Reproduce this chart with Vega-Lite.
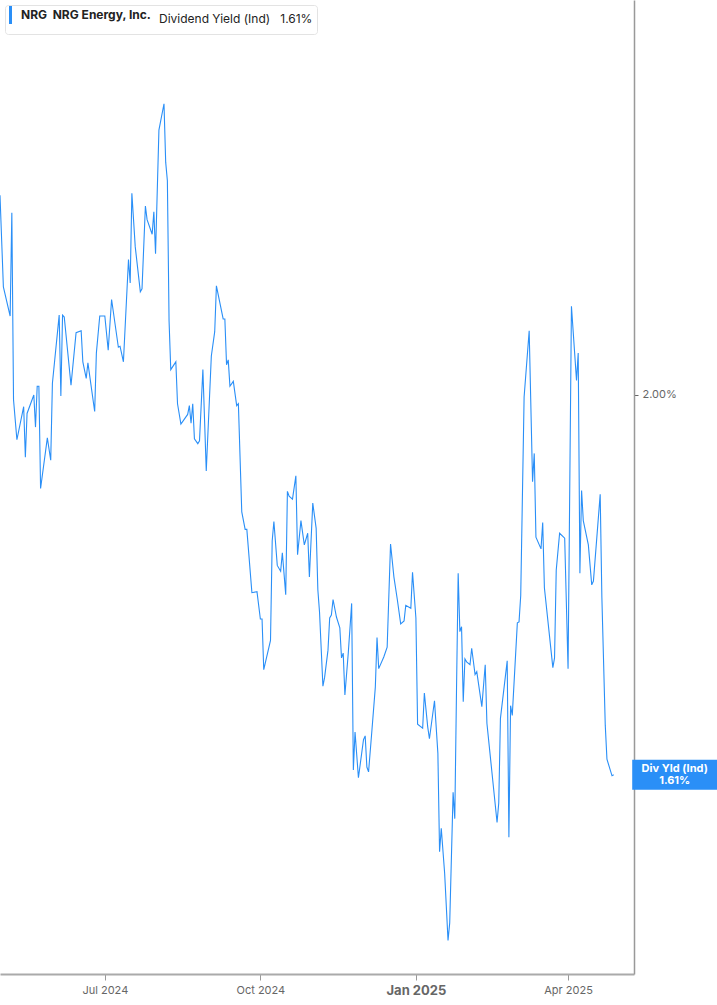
{
  "$schema": "https://vega.github.io/schema/vega-lite/v6.json",
  "width": 634,
  "height": 974,
  "autosize": "none",
  "padding": {"left": 0, "top": 0, "right": 83, "bottom": 31},
  "config": {
    "view": {"stroke": null},
    "font": "Inter",
    "legend": {"fillColor": "white", "strokeColor": "#e3e3e3", "cornerRadius": 3}
  },
  "data": {
    "values": [
      {"date": "2024-04-30", "value": 2.205}, {"date": "2024-05-02", "value": 2.111}, {"date": "2024-05-06", "value": 2.081},
      {"date": "2024-05-07", "value": 2.187}, {"date": "2024-05-08", "value": 1.995}, {"date": "2024-05-10", "value": 1.954},
      {"date": "2024-05-14", "value": 1.988}, {"date": "2024-05-15", "value": 1.936}, {"date": "2024-05-16", "value": 1.981},
      {"date": "2024-05-20", "value": 2.000}, {"date": "2024-05-21", "value": 1.967}, {"date": "2024-05-22", "value": 2.009},
      {"date": "2024-05-23", "value": 2.009}, {"date": "2024-05-24", "value": 1.904}, {"date": "2024-05-28", "value": 1.956},
      {"date": "2024-05-30", "value": 1.933}, {"date": "2024-05-31", "value": 2.012}, {"date": "2024-06-04", "value": 2.082},
      {"date": "2024-06-05", "value": 1.999}, {"date": "2024-06-06", "value": 2.082}, {"date": "2024-06-07", "value": 2.080},
      {"date": "2024-06-11", "value": 2.010}, {"date": "2024-06-14", "value": 2.064}, {"date": "2024-06-17", "value": 2.066},
      {"date": "2024-06-18", "value": 2.034}, {"date": "2024-06-20", "value": 2.017}, {"date": "2024-06-21", "value": 2.033},
      {"date": "2024-06-25", "value": 1.983}, {"date": "2024-06-26", "value": 2.043}, {"date": "2024-06-28", "value": 2.081},
      {"date": "2024-07-01", "value": 2.081}, {"date": "2024-07-03", "value": 2.046}, {"date": "2024-07-05", "value": 2.098},
      {"date": "2024-07-09", "value": 2.049}, {"date": "2024-07-10", "value": 2.050}, {"date": "2024-07-12", "value": 2.034},
      {"date": "2024-07-15", "value": 2.139}, {"date": "2024-07-16", "value": 2.115}, {"date": "2024-07-17", "value": 2.207},
      {"date": "2024-07-19", "value": 2.152}, {"date": "2024-07-22", "value": 2.106}, {"date": "2024-07-23", "value": 2.109},
      {"date": "2024-07-25", "value": 2.194}, {"date": "2024-07-26", "value": 2.180}, {"date": "2024-07-29", "value": 2.165},
      {"date": "2024-07-30", "value": 2.188}, {"date": "2024-07-31", "value": 2.145}, {"date": "2024-08-02", "value": 2.272},
      {"date": "2024-08-05", "value": 2.299}, {"date": "2024-08-06", "value": 2.239}, {"date": "2024-08-07", "value": 2.220},
      {"date": "2024-08-08", "value": 2.076}, {"date": "2024-08-09", "value": 2.026}, {"date": "2024-08-12", "value": 2.034},
      {"date": "2024-08-13", "value": 1.991}, {"date": "2024-08-15", "value": 1.970}, {"date": "2024-08-19", "value": 1.980},
      {"date": "2024-08-20", "value": 1.989}, {"date": "2024-08-21", "value": 1.971}, {"date": "2024-08-22", "value": 1.991},
      {"date": "2024-08-23", "value": 1.955}, {"date": "2024-08-25", "value": 1.950}, {"date": "2024-08-26", "value": 1.953},
      {"date": "2024-08-28", "value": 2.026}, {"date": "2024-08-30", "value": 1.922}, {"date": "2024-09-02", "value": 2.040},
      {"date": "2024-09-04", "value": 2.065}, {"date": "2024-09-05", "value": 2.112}, {"date": "2024-09-09", "value": 2.078},
      {"date": "2024-09-10", "value": 2.078}, {"date": "2024-09-11", "value": 2.031}, {"date": "2024-09-12", "value": 2.036},
      {"date": "2024-09-13", "value": 2.009}, {"date": "2024-09-15", "value": 2.014}, {"date": "2024-09-17", "value": 1.989},
      {"date": "2024-09-18", "value": 1.991}, {"date": "2024-09-20", "value": 1.880}, {"date": "2024-09-22", "value": 1.862},
      {"date": "2024-09-23", "value": 1.862}, {"date": "2024-09-26", "value": 1.797}, {"date": "2024-09-29", "value": 1.798},
      {"date": "2024-10-01", "value": 1.770}, {"date": "2024-10-02", "value": 1.770}, {"date": "2024-10-03", "value": 1.718},
      {"date": "2024-10-07", "value": 1.748}, {"date": "2024-10-08", "value": 1.850}, {"date": "2024-10-09", "value": 1.870},
      {"date": "2024-10-11", "value": 1.825}, {"date": "2024-10-13", "value": 1.819}, {"date": "2024-10-14", "value": 1.838},
      {"date": "2024-10-16", "value": 1.795}, {"date": "2024-10-17", "value": 1.901}, {"date": "2024-10-18", "value": 1.896},
      {"date": "2024-10-20", "value": 1.893}, {"date": "2024-10-22", "value": 1.917}, {"date": "2024-10-23", "value": 1.836},
      {"date": "2024-10-25", "value": 1.871}, {"date": "2024-10-27", "value": 1.846}, {"date": "2024-10-29", "value": 1.858},
      {"date": "2024-10-30", "value": 1.813}, {"date": "2024-11-01", "value": 1.889}, {"date": "2024-11-03", "value": 1.863},
      {"date": "2024-11-04", "value": 1.800}, {"date": "2024-11-05", "value": 1.777}, {"date": "2024-11-07", "value": 1.701},
      {"date": "2024-11-08", "value": 1.710}, {"date": "2024-11-10", "value": 1.738}, {"date": "2024-11-11", "value": 1.771},
      {"date": "2024-11-12", "value": 1.774}, {"date": "2024-11-13", "value": 1.790}, {"date": "2024-11-15", "value": 1.772},
      {"date": "2024-11-17", "value": 1.761}, {"date": "2024-11-18", "value": 1.730}, {"date": "2024-11-19", "value": 1.735},
      {"date": "2024-11-20", "value": 1.692}, {"date": "2024-11-22", "value": 1.735}, {"date": "2024-11-24", "value": 1.786},
      {"date": "2024-11-25", "value": 1.615}, {"date": "2024-11-26", "value": 1.654}, {"date": "2024-11-28", "value": 1.607},
      {"date": "2024-12-01", "value": 1.646}, {"date": "2024-12-02", "value": 1.650}, {"date": "2024-12-03", "value": 1.618},
      {"date": "2024-12-04", "value": 1.613}, {"date": "2024-12-06", "value": 1.656}, {"date": "2024-12-08", "value": 1.700},
      {"date": "2024-12-09", "value": 1.751}, {"date": "2024-12-10", "value": 1.719}, {"date": "2024-12-13", "value": 1.731},
      {"date": "2024-12-15", "value": 1.741}, {"date": "2024-12-17", "value": 1.847}, {"date": "2024-12-19", "value": 1.813},
      {"date": "2024-12-21", "value": 1.790}, {"date": "2024-12-23", "value": 1.765}, {"date": "2024-12-25", "value": 1.768},
      {"date": "2024-12-26", "value": 1.784}, {"date": "2024-12-29", "value": 1.781}, {"date": "2024-12-30", "value": 1.818},
      {"date": "2025-01-01", "value": 1.771}, {"date": "2025-01-02", "value": 1.662}, {"date": "2025-01-05", "value": 1.658},
      {"date": "2025-01-06", "value": 1.694}, {"date": "2025-01-08", "value": 1.659}, {"date": "2025-01-09", "value": 1.647},
      {"date": "2025-01-12", "value": 1.686}, {"date": "2025-01-14", "value": 1.632}, {"date": "2025-01-15", "value": 1.531},
      {"date": "2025-01-16", "value": 1.555}, {"date": "2025-01-18", "value": 1.509}, {"date": "2025-01-20", "value": 1.440},
      {"date": "2025-01-21", "value": 1.458}, {"date": "2025-01-23", "value": 1.592}, {"date": "2025-01-24", "value": 1.565},
      {"date": "2025-01-25", "value": 1.695}, {"date": "2025-01-26", "value": 1.817}, {"date": "2025-01-27", "value": 1.757},
      {"date": "2025-01-28", "value": 1.762}, {"date": "2025-01-29", "value": 1.685}, {"date": "2025-01-30", "value": 1.729},
      {"date": "2025-01-31", "value": 1.726}, {"date": "2025-02-02", "value": 1.723}, {"date": "2025-02-03", "value": 1.740},
      {"date": "2025-02-05", "value": 1.713}, {"date": "2025-02-06", "value": 1.716}, {"date": "2025-02-09", "value": 1.680},
      {"date": "2025-02-11", "value": 1.723}, {"date": "2025-02-12", "value": 1.663}, {"date": "2025-02-18", "value": 1.561},
      {"date": "2025-02-19", "value": 1.581}, {"date": "2025-02-20", "value": 1.668}, {"date": "2025-02-24", "value": 1.727},
      {"date": "2025-02-25", "value": 1.546}, {"date": "2025-02-26", "value": 1.681}, {"date": "2025-02-27", "value": 1.671},
      {"date": "2025-03-02", "value": 1.766}, {"date": "2025-03-03", "value": 1.767}, {"date": "2025-03-04", "value": 1.794},
      {"date": "2025-03-06", "value": 1.998}, {"date": "2025-03-09", "value": 2.066}, {"date": "2025-03-11", "value": 1.911},
      {"date": "2025-03-12", "value": 1.940}, {"date": "2025-03-13", "value": 1.854}, {"date": "2025-03-16", "value": 1.842},
      {"date": "2025-03-17", "value": 1.869}, {"date": "2025-03-18", "value": 1.802}, {"date": "2025-03-23", "value": 1.720},
      {"date": "2025-03-24", "value": 1.730}, {"date": "2025-03-25", "value": 1.820}, {"date": "2025-03-27", "value": 1.858},
      {"date": "2025-03-30", "value": 1.853}, {"date": "2025-04-01", "value": 1.719}, {"date": "2025-04-03", "value": 2.091},
      {"date": "2025-04-06", "value": 2.015}, {"date": "2025-04-07", "value": 2.043}, {"date": "2025-04-08", "value": 1.817},
      {"date": "2025-04-09", "value": 1.902}, {"date": "2025-04-10", "value": 1.871}, {"date": "2025-04-13", "value": 1.846},
      {"date": "2025-04-15", "value": 1.805}, {"date": "2025-04-16", "value": 1.809}, {"date": "2025-04-20", "value": 1.898},
      {"date": "2025-04-21", "value": 1.792}, {"date": "2025-04-23", "value": 1.661}, {"date": "2025-04-24", "value": 1.626},
      {"date": "2025-04-27", "value": 1.609}, {"date": "2025-04-28", "value": 1.610}
    ]
  },
  "encoding": {
    "x": {
      "field": "date",
      "type": "temporal",
      "title": null,
      "scale": {
        "type": "utc",
        "domain": [
          {"year": 2024, "month": 4, "date": 30, "utc": true},
          {"year": 2025, "month": 5, "date": 10, "utc": true}
        ]
      },
      "axis": {
        "values": [
          {"year": 2024, "month": 7, "date": 1, "utc": true},
          {"year": 2024, "month": 10, "date": 1, "utc": true},
          {"year": 2025, "month": 1, "date": 1, "utc": true},
          {"year": 2025, "month": 4, "date": 1, "utc": true}
        ],
        "format": "%b %Y",
        "grid": false,
        "domainColor": "#aaaaaa",
        "domainWidth": 2,
        "tickColor": "#999999",
        "tickSize": 6,
        "labelPadding": 4,
        "labelColor": "#666666",
        "labelFontSize": {"condition": {"test": "utcmonth(datum.value) == 0", "value": 13}, "value": 11},
        "labelFontWeight": {"condition": {"test": "utcmonth(datum.value) == 0", "value": "bold"}, "value": "normal"}
      }
    },
    "y": {
      "field": "value",
      "type": "quantitative",
      "title": null,
      "scale": {"domain": [1.4055, 2.4055], "zero": false, "nice": false},
      "axis": {
        "orient": "right",
        "values": [2.0],
        "labelExpr": "format(datum.value, '.2f') + '%'",
        "grid": false,
        "domainColor": "#999999",
        "domainWidth": 1.5,
        "tickColor": "#666666",
        "tickSize": 4,
        "labelPadding": 4,
        "labelColor": "#666666",
        "labelFontSize": 11
      }
    }
  },
  "layer": [
    {
      "mark": {"type": "line", "strokeWidth": 1.1, "clip": true},
      "encoding": {
        "color": {
          "datum": "NRG",
          "scale": {"range": ["#2a8ff7"]},
          "legend": {
            "orient": "top-left",
            "offset": 5,
            "padding": 4,
            "title": "Dividend Yield (Ind)\u00a0\u00a0\u00a01.61%",
            "titleOrient": "right",
            "titleAnchor": "middle",
            "titleBaseline": "middle",
            "titleFontWeight": "normal",
            "titleFontSize": 12,
            "titleColor": "#222222",
            "titlePadding": 8,
            "labelExpr": "'NRG\u00a0\u00a0NRG Energy, Inc.'",
            "labelFontSize": 12,
            "labelFontWeight": "bold",
            "labelColor": "#222222",
            "labelOffset": 0,
            "symbolType": "M-4,-8L-4,8",
            "symbolSize": 5.06,
            "symbolStrokeWidth": 3
          }
        }
      }
    },
    {
      "transform": [
        {"window": [{"op": "row_number", "as": "rn"}], "sort": [{"field": "date", "order": "descending"}]},
        {"filter": "datum.rn == 1"}
      ],
      "mark": {"type": "rect", "width": 85, "height": 30, "xOffset": 61, "color": "#2a8ff7", "clip": false}
    },
    {
      "transform": [
        {"window": [{"op": "row_number", "as": "rn"}], "sort": [{"field": "date", "order": "descending"}]},
        {"filter": "datum.rn == 1"}
      ],
      "mark": {
        "type": "text",
        "text": ["Div Yld (Ind)", "1.61%"],
        "xOffset": 61,
        "yOffset": -6,
        "align": "center",
        "baseline": "middle",
        "lineHeight": 12,
        "fontSize": 11,
        "fontWeight": "bold",
        "color": "white",
        "clip": false
      }
    }
  ]
}
